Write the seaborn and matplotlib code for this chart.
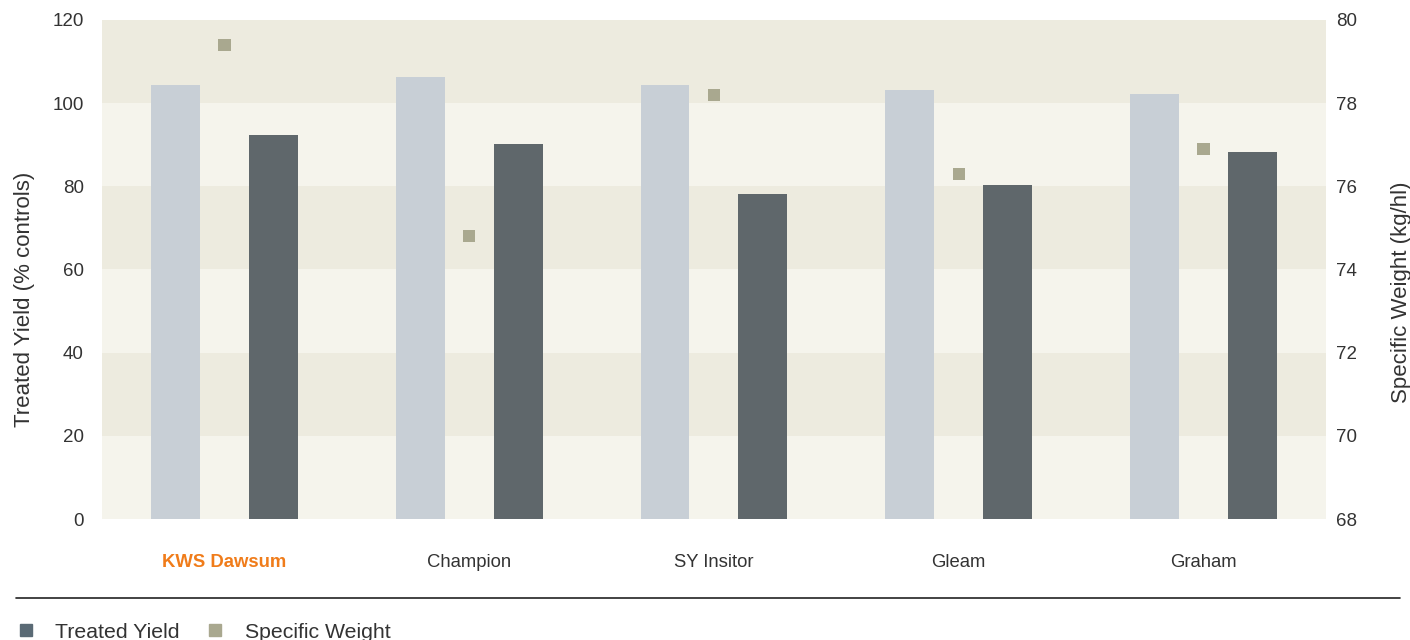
import matplotlib
matplotlib.use("Agg")
import matplotlib.pyplot as plt
from matplotlib.lines import Line2D
import seaborn as sns
import pandas as pd

# Data
varieties = ["KWS Dawsum", "Champion", "SY Insitor", "Gleam", "Graham"]
untreated_yield = [104.4, 106.3, 104.4, 103.2, 102.2]
treated_yield = [92.3, 90.2, 78.2, 80.3, 88.3]
specific_weight = [79.4, 74.8, 78.2, 76.3, 76.9]

yield_ticks = [0, 20, 40, 60, 80, 100, 120]
weight_ticks = [68, 70, 72, 74, 76, 78, 80]

light_bar = "#c8cfd6"
dark_bar = "#5f676b"
marker_col = "#a9a88f"
band_dark = "#edebdf"
band_light = "#f5f4ec"
text_col = "#333333"

sns.set_style("white")
plt.rcParams["font.family"] = ["Liberation Sans", "DejaVu Sans"]

df = pd.DataFrame({
    "variety": varieties * 2,
    "yield": untreated_yield + treated_yield,
    "series": ["Untreated"] * 5 + ["Treated Yield"] * 5,
})
sw = pd.DataFrame({"variety": varieties, "weight": specific_weight})

fig = plt.figure(figsize=(14.1, 6.4), dpi=100)
ax = fig.add_axes([0.0723, 0.189, 0.8681, 0.78])

sns.barplot(data=df, x="variety", y="yield", hue="series",
            hue_order=["Untreated", "Treated Yield"],
            palette=[light_bar, dark_bar], width=0.8, saturation=1,
            linewidth=0, legend=False, ax=ax, zorder=2)

# make bars narrower while keeping their centres
for cont in ax.containers:
    for p in cont:
        c = p.get_x() + p.get_width() / 2
        p.set_width(0.2)
        p.set_x(c - 0.1)

# alternating background bands
for i, lo in enumerate(yield_ticks[:-1]):
    ax.axhspan(lo, lo + 20, color=band_light if i % 2 == 0 else band_dark, lw=0, zorder=0)

ax.set_xlim(-0.5, 4.5)
ax.set_ylim(0, 120)
ax.set_yticks(yield_ticks)
ax.set_xlabel("")
ax.set_ylabel("Treated Yield (% controls)", fontsize=16, color=text_col)
ax.yaxis.set_label_coords(-0.055, 0.441)
ax.tick_params(axis="y", length=0, pad=13, labelsize=13.5, labelcolor=text_col)
ax.tick_params(axis="x", length=0, pad=25, labelsize=13.3, labelcolor=text_col)
for lbl in ax.get_xticklabels():
    if lbl.get_text() == "KWS Dawsum":
        lbl.set_color("#f07c1a")
        lbl.set_fontweight("bold")
sns.despine(ax=ax, left=True, bottom=True)

ax2 = ax.twinx()
sns.scatterplot(data=sw, x="variety", y="weight", marker="s", s=80,
                color=marker_col, edgecolor="none", ax=ax2, zorder=3)
ax2.set_ylim(68, 80)
ax2.set_yticks(weight_ticks)
ax2.set_xlim(-0.5, 4.5)
ax2.set_ylabel("Specific Weight (kg/hl)", fontsize=16, color=text_col)
ax2.yaxis.set_label_coords(1.053, 0.455)
ax2.tick_params(axis="y", length=0, pad=7, labelsize=13.5, labelcolor=text_col)
for s in ax2.spines.values():
    s.set_visible(False)

# separator line and legend at the bottom
fig.add_artist(Line2D([16 / 1410, 1400 / 1410], [1 - 598 / 640] * 2,
                      color="#222222", lw=1.2))
handles = [
    Line2D([], [], marker="s", ls="none", color="#5a6a75", markersize=8),
    Line2D([], [], marker="s", ls="none", color=marker_col, markersize=8),
]
fig.legend(handles, ["Treated Yield", "Specific Weight"], loc="center left",
           bbox_to_anchor=(-0.003, 1 - 632 / 640), ncol=2, frameon=False,
           fontsize=15.3, handlelength=1.0, handletextpad=0.9, columnspacing=1.15,
           labelcolor=text_col)

fig.savefig("out.png", dpi=100)
